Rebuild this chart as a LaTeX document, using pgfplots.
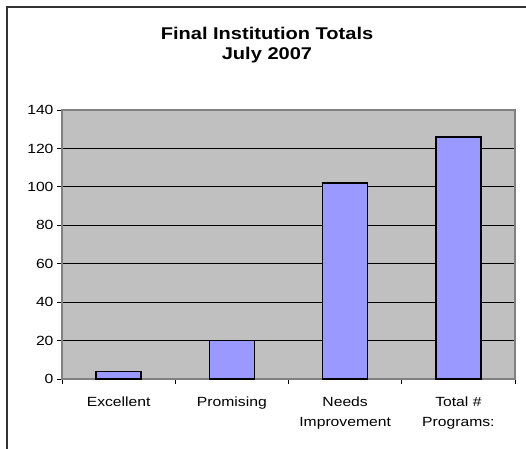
\documentclass[border=0pt]{standalone}
\usepackage{pgfplots}
\pgfplotsset{compat=1.18}
\usepackage{fontspec}
\setmainfont[FakeStretch=1.18]{Liberation Sans}
\definecolor{plotgray}{HTML}{C0C0C0}
\definecolor{barblue}{HTML}{9999FF}
\definecolor{framegray}{HTML}{808080}
\begin{document}
\begin{tikzpicture}[x=1pt,y=1pt]
\useasboundingbox (0,0) rectangle (526,448);
\draw[line width=2pt, color=black!80] (7,441) rectangle (560,-30);
\node[font=\fontsize{17}{20.5}\selectfont\bfseries, align=center] at (267,403) {Final Institution Totals\\July 2007};
\begin{axis}[
  at={(62pt,69pt)}, anchor=south west, scale only axis,
  width=453pt, height=269pt,
  ymin=0, ymax=140, ytick={0,20,...,140},
  xmin=-0.5, xmax=3.5,
  axis background/.style={fill=plotgray},
  axis line style={draw=framegray, line width=1.2pt},
  ymajorgrids, grid style={black, line width=0.8pt},
  xtick={-0.5,0.5,1.5,2.5,3.5},
  xticklabels={},
  yticklabel style={font=\fontsize{13.3}{16}\selectfont},
  /pgf/number format/assume math mode=true,
  tick align=outside, tickpos=left,
  major tick length=5pt,
  tick style={black, line width=0.8pt},
  extra x ticks={0,1,2,3},
  extra x tick labels={Excellent, Promising, Needs\\[3pt]Improvement, Total \#\\[3pt]Programs:},
  extra x tick style={tick style={draw=none}, major tick length=0pt,
    xticklabel style={align=center, font=\fontsize{13.3}{17}\selectfont, yshift=-14pt}},
  ybar, bar width=45pt,
]
\addplot[fill=barblue, draw=black, line width=1.4pt, bar shift=0pt] coordinates {(0,4) (1,20) (2,102) (3,126)};
\end{axis}
\end{tikzpicture}
\end{document}
